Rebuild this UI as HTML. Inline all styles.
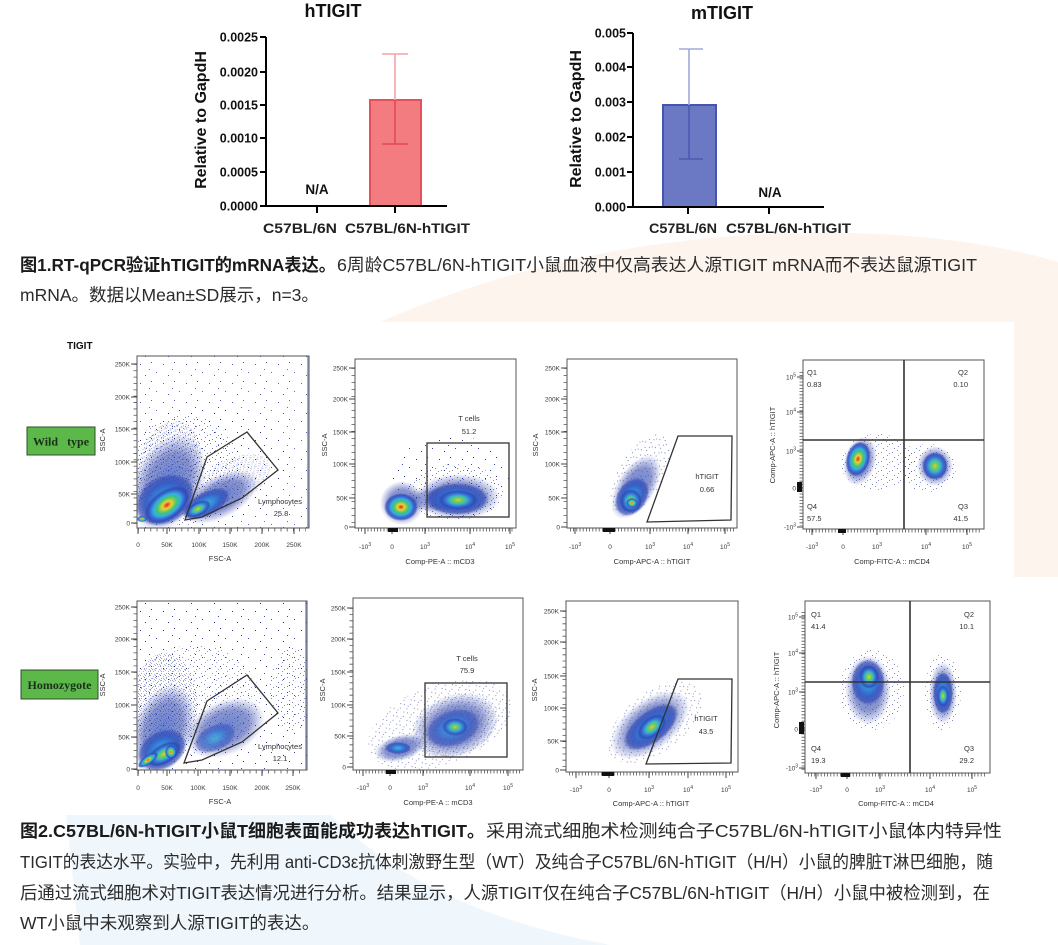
<!DOCTYPE html>
<html><head><meta charset="utf-8">
<style>
html,body{margin:0;padding:0;background:#fff;}
svg{display:block;}
.cap{font-family:"Liberation Sans","Noto Sans CJK SC",sans-serif;font-size:17.5px;fill:#2b2b2b;}
.b{font-weight:bold;fill:#1a1a1a;}
.ax{font-family:"Liberation Sans",sans-serif;font-weight:bold;fill:#111;}
.f{font-family:"Liberation Sans",sans-serif;font-size:6.5px;fill:#3a3a3a;}
.ft{font-family:"Liberation Sans",sans-serif;font-size:7.5px;fill:#333;}
.fr{fill:none;stroke:#555;stroke-width:1;}
.g{fill:none;stroke:#333;stroke-width:1.3;}
.tk{fill:none;stroke:#444;stroke-width:1;}
.mn{stroke:#555;stroke-width:3;}
</style></head><body>
<svg width="1058" height="945" viewBox="0 0 1058 945" xmlns="http://www.w3.org/2000/svg">
<defs>
<pattern id="s0" width="23" height="19" patternUnits="userSpaceOnUse">
<rect x="2" y="3" width="1" height="1" fill="#24328c"/><rect x="13" y="1" width="1" height="1" fill="#24328c"/>
<rect x="18" y="11" width="1" height="1" fill="#3048b0"/><rect x="7" y="14" width="1" height="1" fill="#24328c"/>
<rect x="11" y="8" width="1" height="1" fill="#3048b0"/>
</pattern>
<pattern id="s1" width="11" height="9" patternUnits="userSpaceOnUse">
<rect x="1" y="2" width="1" height="1" fill="#1e2b84"/><rect x="6" y="0" width="1" height="1" fill="#1e2b84"/>
<rect x="7" y="5" width="1" height="1" fill="#2a40a8"/><rect x="3" y="7" width="1" height="1" fill="#1e2b84"/>
<rect x="9" y="3" width="1" height="1" fill="#2a40a8"/>
</pattern>
<pattern id="s2" width="5" height="5" patternUnits="userSpaceOnUse">
<rect x="0" y="0" width="1" height="1" fill="#1e2b84"/><rect x="3" y="1" width="1" height="1" fill="#2a40a8"/>
<rect x="1" y="3" width="1" height="1" fill="#1e2b84"/><rect x="4" y="4" width="1" height="1" fill="#2a40a8"/>
</pattern>
<radialGradient id="hot">
<stop offset="0" stop-color="#e02a1e"/><stop offset=".1" stop-color="#f0702a"/><stop offset=".2" stop-color="#e8d43a"/>
<stop offset=".32" stop-color="#8ccc48"/><stop offset=".45" stop-color="#3cbf8a"/><stop offset=".58" stop-color="#34b2dc"/>
<stop offset=".72" stop-color="#3a70d8"/><stop offset=".86" stop-color="#2c44b0" stop-opacity=".75"/><stop offset="1" stop-color="#2c44b0" stop-opacity="0"/>
</radialGradient>
<radialGradient id="warm">
<stop offset="0" stop-color="#c9d93c"/><stop offset=".2" stop-color="#7ccb50"/><stop offset=".42" stop-color="#3ab8c4"/>
<stop offset=".64" stop-color="#3872d6"/><stop offset=".84" stop-color="#2c44b0" stop-opacity=".75"/><stop offset="1" stop-color="#2c44b0" stop-opacity="0"/>
</radialGradient>
<radialGradient id="cool">
<stop offset="0" stop-color="#3cb8d4"/><stop offset=".35" stop-color="#3488d8"/><stop offset=".65" stop-color="#3058c4" stop-opacity=".85"/>
<stop offset=".87" stop-color="#2c44b0" stop-opacity=".6"/><stop offset="1" stop-color="#2c44b0" stop-opacity="0"/>
</radialGradient>
<radialGradient id="blu">
<stop offset="0" stop-color="#3458c4" stop-opacity=".75"/><stop offset=".6" stop-color="#2c40a8" stop-opacity=".55"/>
<stop offset="1" stop-color="#2c40a8" stop-opacity="0"/>
</radialGradient>
<clipPath id="c1"><rect x="137" y="356" width="172" height="172"/></clipPath>
<clipPath id="c2"><rect x="355" y="359" width="161" height="169"/></clipPath>
<clipPath id="c3"><rect x="567" y="359" width="170" height="169"/></clipPath>
<clipPath id="c4"><rect x="803" y="360" width="181" height="169"/></clipPath>
<clipPath id="c5"><rect x="137" y="601" width="170" height="169"/></clipPath>
<clipPath id="c6"><rect x="353" y="598" width="170" height="172"/></clipPath>
<clipPath id="c7"><rect x="566" y="601" width="172" height="171"/></clipPath>
<clipPath id="c8"><rect x="805" y="601" width="185" height="172"/></clipPath>
</defs>

<rect width="1058" height="945" fill="#fff"/>
<path d="M380 322 C500 270 640 236 800 233 C920 231 1000 245 1058 262 L1058 577 L1014 577 L1014 322 Z" fill="#fdf4ee"/>
<path d="M66 815 L330 815 C400 880 480 920 610 945 L80 945 Z" fill="#eff6fc"/>

<!-- hTIGIT bar chart -->
<g class="ax">
<text x="333" y="17" font-size="18" text-anchor="middle">hTIGIT</text>
<g font-size="12.5" text-anchor="end">
<text x="258" y="41.5">0.0025</text><text x="258" y="76.5">0.0020</text><text x="258" y="109.5">0.0015</text>
<text x="258" y="142.5">0.0010</text><text x="258" y="176.5">0.0005</text><text x="258" y="210.5">0.0000</text>
</g>
<text transform="translate(206,120) rotate(-90)" text-anchor="middle" font-size="16">Relative to GapdH</text>
<text x="317" y="194" font-size="13.5" text-anchor="middle">N/A</text>
<text x="263" y="233" font-size="14" textLength="74" lengthAdjust="spacingAndGlyphs" fill="#222">C57BL/6N</text>
<text x="345" y="233" font-size="14" textLength="125" lengthAdjust="spacingAndGlyphs" fill="#222">C57BL/6N-hTIGIT</text>
</g>
<rect x="370" y="100" width="51" height="106" fill="#f27c80" stroke="#e5505b" stroke-width="2"/>
<path d="M395 54V100 M382 54H408" stroke="#f4a3a9" stroke-width="1.6" fill="none"/>
<path d="M395 100V144 M382 144H408" stroke="#e24a58" stroke-width="1.6" fill="none"/>
<path d="M266 37V207 M260 37H266 M260 72H266 M260 105H266 M260 138H266 M260 172H266 M260 206H266 M265 206H447 M317 206V213 M395 206V213" stroke="#000" stroke-width="2" fill="none"/>

<!-- mTIGIT bar chart -->
<g class="ax">
<text x="722" y="19" font-size="18" text-anchor="middle">mTIGIT</text>
<g font-size="12.5" text-anchor="end">
<text x="626" y="37.5">0.005</text><text x="626" y="71.5">0.004</text><text x="626" y="106.5">0.003</text>
<text x="626" y="141.5">0.002</text><text x="626" y="176.5">0.001</text><text x="626" y="211.5">0.000</text>
</g>
<text transform="translate(581,119) rotate(-90)" text-anchor="middle" font-size="16">Relative to GapdH</text>
<text x="770" y="197" font-size="13.5" text-anchor="middle">N/A</text>
<text x="649" y="233" font-size="14" textLength="68" lengthAdjust="spacingAndGlyphs" fill="#222">C57BL/6N</text>
<text x="726" y="233" font-size="14" textLength="125" lengthAdjust="spacingAndGlyphs" fill="#222">C57BL/6N-hTIGIT</text>
</g>
<rect x="663" y="105" width="53" height="102" fill="#6b78c3" stroke="#4555ad" stroke-width="2"/>
<path d="M689 49V105 M679 49H703" stroke="#a0a8dc" stroke-width="1.6" fill="none"/>
<path d="M689 105V159 M679 159H703" stroke="#4a5ab0" stroke-width="1.6" fill="none"/>
<path d="M633 33V208 M627 33H633 M627 67H633 M627 102H633 M627 137H633 M627 172H633 M627 207H633 M632 207H824 M688 207V214 M769 207V214" stroke="#000" stroke-width="2" fill="none"/>

<!-- Caption 1 -->
<text class="cap b" x="20" y="271" textLength="316" lengthAdjust="spacingAndGlyphs">图1.RT-qPCR验证hTIGIT的mRNA表达。</text>
<text class="cap" x="337" y="271" textLength="640" lengthAdjust="spacingAndGlyphs">6周龄C57BL/6N-hTIGIT小鼠血液中仅高表达人源TIGIT mRNA而不表达鼠源TIGIT</text>
<text class="cap" x="20" y="301">mRNA。数据以Mean±SD展示，n=3。</text>

<!-- Flow figure -->
<text x="67" y="349" font-family="Liberation Sans, sans-serif" font-weight="bold" font-size="10" fill="#111">TIGIT</text>

<rect x="27" y="427" width="68" height="28" fill="#5db84a" stroke="#2f4f2f" stroke-width="1"/>
<text x="61" y="445.5" text-anchor="middle" font-family="Liberation Serif, serif" font-weight="bold" font-size="12" fill="#1b2e1b" xml:space="preserve">Wild   type</text>
<rect x="21" y="670" width="77" height="29" fill="#5db84a" stroke="#2f4f2f" stroke-width="1"/>
<text x="59.5" y="689" text-anchor="middle" font-family="Liberation Serif, serif" font-weight="bold" font-size="12" fill="#1b2e1b">Homozygote</text>

<!-- R1P1 -->
<g clip-path="url(#c1)">
<rect x="137" y="356" width="172" height="172" fill="url(#s0)" opacity=".8"/>
<ellipse cx="205" cy="465" rx="85" ry="62" fill="url(#s0)"/>
<ellipse cx="185" cy="470" rx="55" ry="55" fill="url(#s1)" opacity=".6"/>
<ellipse cx="168" cy="470" rx="32" ry="50" fill="url(#s2)" opacity=".45" transform="rotate(15 168 470)"/>
<ellipse cx="232" cy="482" rx="42" ry="22" fill="url(#s2)" opacity=".35" transform="rotate(-30 232 482)"/>
<ellipse cx="168" cy="483" rx="34" ry="52" fill="url(#blu)" transform="rotate(25 168 483)"/>
<ellipse cx="165" cy="500" rx="32" ry="24" fill="url(#cool)" transform="rotate(-30 165 500)"/>
<ellipse cx="167" cy="505" rx="26" ry="15" fill="url(#hot)" transform="rotate(-35 167 505)"/>
<ellipse cx="220" cy="497" rx="42" ry="21" fill="url(#blu)" transform="rotate(-28 220 497)"/>
<ellipse cx="206" cy="504" rx="26" ry="12" fill="url(#cool)" transform="rotate(-28 206 504)"/>
<ellipse cx="198" cy="509" rx="14" ry="7" fill="url(#warm)" transform="rotate(-28 198 509)"/>
<ellipse cx="142" cy="519" rx="5" ry="3" fill="url(#hot)"/>
<rect x="307" y="356" width="2" height="172" fill="#3a58b0" opacity=".5"/>
</g>
<rect class="fr" x="137" y="356" width="172" height="172"/>
<polygon class="g" points="185,520 202,517 242,498 278,470 247,432 207,457"/>
<text class="ft" x="280" y="504" text-anchor="middle">Lymphocytes</text>
<text class="ft" x="281" y="516" text-anchor="middle">25.8</text>
<line class="mn" x1="135" y1="364" x2="135" y2="524" stroke-dasharray="0.8 5.56"/>
<path class="tk" d="M131 364H137 M131 397H137 M131 429H137 M131 462H137 M131 494H137 M131 523H137 M138 528V534 M167 528V534 M199 528V534 M230 528V534 M262 528V534 M294 528V534"/>
<line class="mn" x1="138" y1="530" x2="306" y2="530" stroke-dasharray="0.8 5.4"/>
<g class="f" text-anchor="end">
<text x="130" y="366.5">250K</text><text x="130" y="399.5">200K</text><text x="130" y="431.5">150K</text>
<text x="130" y="464.5">100K</text><text x="130" y="496.5">50K</text><text x="130" y="525.5">0</text>
</g>
<g class="f" text-anchor="middle">
<text x="138" y="547">0</text><text x="167" y="547">50K</text><text x="199" y="547">100K</text>
<text x="230" y="547">150K</text><text x="262" y="547">200K</text><text x="294" y="547">250K</text>
</g>
<text class="ft" x="220" y="561" text-anchor="middle">FSC-A</text>
<text class="ft" transform="translate(105,440) rotate(-90)" text-anchor="middle">SSC-A</text>

<!-- R1P2 -->
<g clip-path="url(#c2)">
<ellipse cx="452" cy="478" rx="62" ry="42" fill="url(#s0)"/>
<ellipse cx="455" cy="492" rx="48" ry="28" fill="url(#s1)" opacity=".6"/>
<ellipse cx="402" cy="503" rx="22" ry="22" fill="url(#blu)"/>
<ellipse cx="458" cy="497" rx="42" ry="23" fill="url(#blu)"/>
<ellipse cx="430" cy="500" rx="25" ry="12" fill="url(#blu)" opacity=".6"/>
<ellipse cx="457" cy="499" rx="32" ry="16" fill="url(#cool)"/>
<ellipse cx="458" cy="500" rx="20" ry="10" fill="url(#warm)"/>
<ellipse cx="401" cy="507" rx="17" ry="14" fill="url(#hot)"/>
</g>
<rect class="fr" x="355" y="359" width="161" height="169"/>
<rect class="g" x="427" y="443" width="82" height="74"/>
<text class="ft" x="469" y="421" text-anchor="middle">T cells</text>
<text class="ft" x="469" y="434" text-anchor="middle">51.2</text>
<line class="mn" x1="353" y1="368" x2="353" y2="528" stroke-dasharray="0.8 6.2"/>
<path class="tk" d="M349 368H355 M349 399H355 M349 432H355 M349 464H355 M349 498H355 M349 527H355 M365 528V534 M392 528V534 M425 528V534 M470 528V534 M510 528V534"/>
<line class="mn" x1="358" y1="530" x2="513" y2="530" stroke-dasharray="0.8 2.4"/>
<rect x="388" y="528" width="10" height="4" fill="#111"/>
<g class="f" text-anchor="end">
<text x="348" y="370.5">250K</text><text x="348" y="401.5">200K</text><text x="348" y="434.5">150K</text>
<text x="348" y="466.5">100K</text><text x="348" y="500.5">50K</text><text x="348" y="529.5">0</text>
</g>
<g class="f" text-anchor="middle">
<text x="365" y="549">-10<tspan dy="-3" font-size="5">3</tspan></text><text x="392" y="549">0</text>
<text x="425" y="549">10<tspan dy="-3" font-size="5">3</tspan></text><text x="470" y="549">10<tspan dy="-3" font-size="5">4</tspan></text>
<text x="510" y="549">10<tspan dy="-3" font-size="5">5</tspan></text>
</g>
<text class="ft" x="440" y="564" text-anchor="middle">Comp-PE-A :: mCD3</text>
<text class="ft" transform="translate(327,445) rotate(-90)" text-anchor="middle">SSC-A</text>

<!-- R1P3 -->
<g clip-path="url(#c3)">
<ellipse cx="640" cy="475" rx="22" ry="45" fill="url(#s1)" opacity=".6" transform="rotate(30 640 475)"/>
<ellipse cx="636" cy="487" rx="19" ry="36" fill="url(#blu)" transform="rotate(32 636 487)"/>
<ellipse cx="632" cy="497" rx="15" ry="21" fill="url(#cool)" transform="rotate(35 632 497)"/>
<ellipse cx="631" cy="501" rx="11" ry="12" fill="url(#warm)"/>
<ellipse cx="632" cy="503" rx="6" ry="5" fill="url(#hot)"/>
</g>
<rect class="fr" x="567" y="359" width="170" height="169"/>
<polygon class="g" points="647,522 678,436 732,436 731,520"/>
<text class="ft" x="707" y="479" text-anchor="middle">hTIGIT</text>
<text class="ft" x="707" y="492" text-anchor="middle">0.66</text>
<line class="mn" x1="565" y1="368" x2="565" y2="528" stroke-dasharray="0.8 6.2"/>
<path class="tk" d="M561 368H567 M561 399H567 M561 432H567 M561 464H567 M561 498H567 M561 527H567 M575 528V534 M610 528V534 M650 528V534 M688 528V534 M725 528V534"/>
<line class="mn" x1="570" y1="530" x2="734" y2="530" stroke-dasharray="0.8 2.4"/>
<rect x="603" y="528" width="12" height="4" fill="#111"/>
<g class="f" text-anchor="end">
<text x="560" y="370.5">250K</text><text x="560" y="401.5">200K</text><text x="560" y="434.5">150K</text>
<text x="560" y="466.5">100K</text><text x="560" y="500.5">50K</text><text x="560" y="529.5">0</text>
</g>
<g class="f" text-anchor="middle">
<text x="575" y="549">-10<tspan dy="-3" font-size="5">3</tspan></text><text x="610" y="549">0</text>
<text x="650" y="549">10<tspan dy="-3" font-size="5">3</tspan></text><text x="688" y="549">10<tspan dy="-3" font-size="5">4</tspan></text>
<text x="725" y="549">10<tspan dy="-3" font-size="5">5</tspan></text>
</g>
<text class="ft" x="652" y="564" text-anchor="middle">Comp-APC-A :: hTIGIT</text>
<text class="ft" transform="translate(538,445) rotate(-90)" text-anchor="middle">SSC-A</text>

<!-- R1P4 -->
<g clip-path="url(#c4)">
<ellipse cx="878" cy="462" rx="38" ry="28" fill="url(#s1)" opacity=".55"/>
<ellipse cx="928" cy="468" rx="28" ry="24" fill="url(#s1)" opacity=".55"/>
<ellipse cx="860" cy="461" rx="16" ry="25" fill="url(#blu)" transform="rotate(15 860 461)"/>
<ellipse cx="858" cy="459" rx="12" ry="18" fill="url(#hot)" transform="rotate(15 858 459)"/>
<ellipse cx="935" cy="466" rx="18" ry="20" fill="url(#blu)"/>
<ellipse cx="935" cy="466" rx="13" ry="14" fill="url(#warm)"/>
</g>
<rect class="fr" x="803" y="360" width="181" height="169"/>
<path d="M904 360V529 M803 440H984" stroke="#333" stroke-width="1.6" fill="none"/>
<g class="ft">
<text x="807" y="375">Q1</text><text x="807" y="387">0.83</text>
<text x="968" y="375" text-anchor="end">Q2</text><text x="968" y="387" text-anchor="end">0.10</text>
<text x="807" y="509">Q4</text><text x="807" y="521">57.5</text>
<text x="968" y="509" text-anchor="end">Q3</text><text x="968" y="521" text-anchor="end">41.5</text>
</g>
<line class="mn" x1="801" y1="372" x2="801" y2="526" stroke-dasharray="0.8 2.4"/>
<line class="mn" x1="806" y1="531" x2="981" y2="531" stroke-dasharray="0.8 2.4"/>
<path class="tk" d="M797 377H803 M797 412H803 M797 451H803 M797 488H803 M797 527H803 M812 529V535 M843 529V535 M877 529V535 M926 529V535 M967 529V535"/>
<rect x="838" y="529" width="8" height="4" fill="#111"/>
<rect x="797" y="482" width="5" height="10" fill="#111"/>
<g class="f" text-anchor="end">
<text x="796" y="379.5">10<tspan dy="-3" font-size="5">5</tspan></text>
<text x="796" y="414.5">10<tspan dy="-3" font-size="5">4</tspan></text>
<text x="796" y="453.5">10<tspan dy="-3" font-size="5">3</tspan></text>
<text x="796" y="490.5">0</text>
<text x="796" y="529.5">-10<tspan dy="-3" font-size="5">3</tspan></text>
</g>
<g class="f" text-anchor="middle">
<text x="812" y="549">-10<tspan dy="-3" font-size="5">3</tspan></text><text x="843" y="549">0</text>
<text x="877" y="549">10<tspan dy="-3" font-size="5">3</tspan></text><text x="926" y="549">10<tspan dy="-3" font-size="5">4</tspan></text>
<text x="967" y="549">10<tspan dy="-3" font-size="5">5</tspan></text>
</g>
<text class="ft" x="892" y="564" text-anchor="middle">Comp-FITC-A :: mCD4</text>
<text class="ft" transform="translate(775,445) rotate(-90)" text-anchor="middle">Comp-APC-A :: hTIGIT</text>

<!-- R2P1 -->
<g clip-path="url(#c5)">
<rect x="137" y="601" width="170" height="169" fill="url(#s0)"/>
<ellipse cx="210" cy="690" rx="90" ry="65" fill="url(#s0)"/>
<ellipse cx="195" cy="700" rx="65" ry="55" fill="url(#s1)" opacity=".5"/>
<ellipse cx="165" cy="705" rx="32" ry="52" fill="url(#s2)" opacity=".4"/>
<ellipse cx="292" cy="690" rx="22" ry="42" fill="url(#s1)" opacity=".6"/>
<ellipse cx="163" cy="730" rx="30" ry="48" fill="url(#blu)" transform="rotate(20 163 730)"/>
<ellipse cx="225" cy="728" rx="42" ry="27" fill="url(#blu)" transform="rotate(-25 225 728)"/>
<ellipse cx="215" cy="738" rx="22" ry="13" fill="url(#cool)" opacity=".7" transform="rotate(-25 215 738)"/>
<ellipse cx="162" cy="750" rx="26" ry="19" fill="url(#cool)" transform="rotate(-30 162 750)"/>
<ellipse cx="164" cy="754" rx="19" ry="10" fill="url(#warm)" transform="rotate(-30 164 754)"/>
<ellipse cx="148" cy="760" rx="12" ry="4.5" fill="url(#hot)" transform="rotate(-35 148 760)"/>
<ellipse cx="171" cy="752" rx="6" ry="7" fill="url(#hot)"/>
<rect x="305" y="601" width="2" height="169" fill="#3a58b0" opacity=".5"/>
</g>
<rect class="fr" x="137" y="601" width="170" height="169"/>
<polygon class="g" points="184,763 202,760 242,742 278,713 247,675 207,701"/>
<text class="ft" x="280" y="749" text-anchor="middle">Lymphocytes</text>
<text class="ft" x="280" y="761" text-anchor="middle">12.1</text>
<line class="mn" x1="135" y1="607" x2="135" y2="770" stroke-dasharray="0.8 5.7"/>
<path class="tk" d="M131 607H137 M131 639H137 M131 672H137 M131 705H137 M131 737H137 M131 769H137 M138 770V776 M167 770V776 M198 770V776 M230 770V776 M262 770V776 M293 770V776"/>
<line class="mn" x1="138" y1="772" x2="304" y2="772" stroke-dasharray="0.8 5.4"/>
<g class="f" text-anchor="end">
<text x="130" y="609.5">250K</text><text x="130" y="641.5">200K</text><text x="130" y="674.5">150K</text>
<text x="130" y="707.5">100K</text><text x="130" y="739.5">50K</text><text x="130" y="771.5">0</text>
</g>
<g class="f" text-anchor="middle">
<text x="138" y="790">0</text><text x="167" y="790">50K</text><text x="198" y="790">100K</text>
<text x="230" y="790">150K</text><text x="262" y="790">200K</text><text x="293" y="790">250K</text>
</g>
<text class="ft" x="220" y="804" text-anchor="middle">FSC-A</text>
<text class="ft" transform="translate(105,685) rotate(-90)" text-anchor="middle">SSC-A</text>

<!-- R2P2 -->
<g clip-path="url(#c6)">
<ellipse cx="440" cy="725" rx="75" ry="40" fill="url(#s1)" opacity=".55" transform="rotate(-20 440 725)"/>
<ellipse cx="455" cy="725" rx="45" ry="30" fill="url(#s2)" opacity=".3" transform="rotate(-20 455 725)"/>
<ellipse cx="455" cy="726" rx="44" ry="31" fill="url(#blu)" transform="rotate(-20 455 726)"/>
<ellipse cx="400" cy="748" rx="26" ry="13" fill="url(#blu)" transform="rotate(-15 400 748)"/>
<ellipse cx="453" cy="728" rx="28" ry="18" fill="url(#cool)" opacity=".8" transform="rotate(-20 453 728)"/>
<ellipse cx="455" cy="727" rx="13" ry="9" fill="url(#warm)" opacity=".9"/>
<ellipse cx="398" cy="748" rx="13" ry="6" fill="url(#cool)"/>
</g>
<rect class="fr" x="353" y="598" width="170" height="172"/>
<rect class="g" x="425" y="683" width="82" height="74"/>
<text class="ft" x="467" y="661" text-anchor="middle">T cells</text>
<text class="ft" x="467" y="673" text-anchor="middle">75.9</text>
<line class="mn" x1="351" y1="608" x2="351" y2="768" stroke-dasharray="0.8 5.4"/>
<path class="tk" d="M347 608H353 M347 639H353 M347 672H353 M347 705H353 M347 736H353 M347 767H353 M363 770V776 M390 770V776 M423 770V776 M470 770V776 M508 770V776"/>
<line class="mn" x1="356" y1="772" x2="520" y2="772" stroke-dasharray="0.8 2.4"/>
<rect x="386" y="770" width="10" height="4" fill="#111"/>
<g class="f" text-anchor="end">
<text x="346" y="610.5">250K</text><text x="346" y="641.5">200K</text><text x="346" y="674.5">150K</text>
<text x="346" y="707.5">100K</text><text x="346" y="738.5">50K</text><text x="346" y="769.5">0</text>
</g>
<g class="f" text-anchor="middle">
<text x="363" y="790">-10<tspan dy="-3" font-size="5">3</tspan></text><text x="390" y="790">0</text>
<text x="423" y="790">10<tspan dy="-3" font-size="5">3</tspan></text><text x="470" y="790">10<tspan dy="-3" font-size="5">4</tspan></text>
<text x="508" y="790">10<tspan dy="-3" font-size="5">5</tspan></text>
</g>
<text class="ft" x="438" y="805" text-anchor="middle">Comp-PE-A :: mCD3</text>
<text class="ft" transform="translate(325,690) rotate(-90)" text-anchor="middle">SSC-A</text>

<!-- R2P3 -->
<g clip-path="url(#c7)">
<ellipse cx="655" cy="722" rx="55" ry="30" fill="url(#s1)" opacity=".55" transform="rotate(-38 655 722)"/>
<ellipse cx="650" cy="725" rx="46" ry="25" fill="url(#blu)" transform="rotate(-38 650 725)"/>
<ellipse cx="651" cy="727" rx="32" ry="16" fill="url(#cool)" transform="rotate(-38 651 727)"/>
<ellipse cx="652" cy="727" rx="17" ry="10" fill="url(#warm)" transform="rotate(-38 652 727)"/>
</g>
<rect class="fr" x="566" y="601" width="172" height="171"/>
<polygon class="g" points="646,764 678,679 732,679 731,763"/>
<text class="ft" x="706" y="721" text-anchor="middle">hTIGIT</text>
<text class="ft" x="706" y="734" text-anchor="middle">43.5</text>
<line class="mn" x1="564" y1="611" x2="564" y2="771" stroke-dasharray="0.8 5.4"/>
<path class="tk" d="M560 611H566 M560 642H566 M560 676H566 M560 708H566 M560 741H566 M560 770H566 M576 772V778 M609 772V778 M649 772V778 M688 772V778 M726 772V778"/>
<line class="mn" x1="569" y1="774" x2="735" y2="774" stroke-dasharray="0.8 2.4"/>
<rect x="602" y="772" width="12" height="4" fill="#111"/>
<g class="f" text-anchor="end">
<text x="559" y="613.5">250K</text><text x="559" y="644.5">200K</text><text x="559" y="678.5">150K</text>
<text x="559" y="710.5">100K</text><text x="559" y="743.5">50K</text><text x="559" y="772.5">0</text>
</g>
<g class="f" text-anchor="middle">
<text x="576" y="792">-10<tspan dy="-3" font-size="5">3</tspan></text><text x="609" y="792">0</text>
<text x="649" y="792">10<tspan dy="-3" font-size="5">3</tspan></text><text x="688" y="792">10<tspan dy="-3" font-size="5">4</tspan></text>
<text x="726" y="792">10<tspan dy="-3" font-size="5">5</tspan></text>
</g>
<text class="ft" x="651" y="806" text-anchor="middle">Comp-APC-A :: hTIGIT</text>
<text class="ft" transform="translate(537,690) rotate(-90)" text-anchor="middle">SSC-A</text>

<!-- R2P4 -->
<g clip-path="url(#c8)">
<ellipse cx="872" cy="690" rx="32" ry="40" fill="url(#s1)" opacity=".55"/>
<ellipse cx="943" cy="692" rx="18" ry="38" fill="url(#s1)" opacity=".55"/>
<ellipse cx="868" cy="690" rx="23" ry="35" fill="url(#blu)"/>
<ellipse cx="868" cy="682" rx="17" ry="23" fill="url(#cool)"/>
<ellipse cx="869" cy="677" rx="10" ry="12" fill="url(#warm)"/>
<ellipse cx="943" cy="693" rx="14" ry="31" fill="url(#blu)"/>
<ellipse cx="943" cy="693" rx="10" ry="21" fill="url(#cool)"/>
<ellipse cx="943" cy="696" rx="6" ry="11" fill="url(#warm)"/>
</g>
<rect class="fr" x="805" y="601" width="185" height="172"/>
<path d="M910 601V773 M805 682H990" stroke="#333" stroke-width="1.6" fill="none"/>
<g class="ft">
<text x="811" y="617">Q1</text><text x="811" y="629">41.4</text>
<text x="974" y="617" text-anchor="end">Q2</text><text x="974" y="629" text-anchor="end">10.1</text>
<text x="811" y="751">Q4</text><text x="811" y="763">19.3</text>
<text x="974" y="751" text-anchor="end">Q3</text><text x="974" y="763" text-anchor="end">29.2</text>
</g>
<line class="mn" x1="803" y1="612" x2="803" y2="770" stroke-dasharray="0.8 2.4"/>
<line class="mn" x1="808" y1="775" x2="987" y2="775" stroke-dasharray="0.8 2.4"/>
<path class="tk" d="M799 617H805 M799 653H805 M799 692H805 M799 729H805 M799 768H805 M816 773V779 M847 773V779 M880 773V779 M930 773V779 M972 773V779"/>
<rect x="841" y="773" width="9" height="4" fill="#111"/>
<rect x="799" y="722" width="5" height="12" fill="#111"/>
<g class="f" text-anchor="end">
<text x="798" y="619.5">10<tspan dy="-3" font-size="5">5</tspan></text>
<text x="798" y="655.5">10<tspan dy="-3" font-size="5">4</tspan></text>
<text x="798" y="694.5">10<tspan dy="-3" font-size="5">3</tspan></text>
<text x="798" y="731.5">0</text>
<text x="798" y="770.5">-10<tspan dy="-3" font-size="5">3</tspan></text>
</g>
<g class="f" text-anchor="middle">
<text x="816" y="792">-10<tspan dy="-3" font-size="5">3</tspan></text><text x="847" y="792">0</text>
<text x="880" y="792">10<tspan dy="-3" font-size="5">3</tspan></text><text x="930" y="792">10<tspan dy="-3" font-size="5">4</tspan></text>
<text x="972" y="792">10<tspan dy="-3" font-size="5">5</tspan></text>
</g>
<text class="ft" x="896" y="806" text-anchor="middle">Comp-FITC-A :: mCD4</text>
<text class="ft" transform="translate(779,690) rotate(-90)" text-anchor="middle">Comp-APC-A :: hTIGIT</text>

<!-- Caption 2 -->
<text class="cap b" x="20" y="837" textLength="465" lengthAdjust="spacingAndGlyphs">图2.C57BL/6N-hTIGIT小鼠T细胞表面能成功表达hTIGIT。</text>
<text class="cap" x="486" y="837" textLength="516" lengthAdjust="spacingAndGlyphs">采用流式细胞术检测纯合子C57BL/6N-hTIGIT小鼠体内特异性</text>
<text class="cap" x="20" y="868" textLength="973" lengthAdjust="spacingAndGlyphs">TIGIT的表达水平。实验中，先利用 anti-CD3ε抗体刺激野生型（WT）及纯合子C57BL/6N-hTIGIT（H/H）小鼠的脾脏T淋巴细胞，随</text>
<text class="cap" x="20" y="899" textLength="970" lengthAdjust="spacingAndGlyphs">后通过流式细胞术对TIGIT表达情况进行分析。结果显示，人源TIGIT仅在纯合子C57BL/6N-hTIGIT（H/H）小鼠中被检测到，在</text>
<text class="cap" x="20" y="929">WT小鼠中未观察到人源TIGIT的表达。</text>
</svg>
</body></html>
